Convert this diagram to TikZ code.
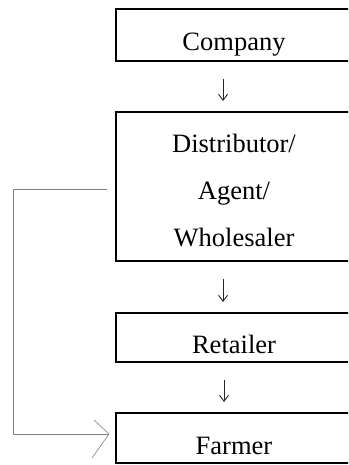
\documentclass[tikz,border=0pt]{standalone}
\usepackage{fontspec}
\setmainfont{Liberation Serif}
\usetikzlibrary{arrows.meta}
\begin{document}
\begin{tikzpicture}[x=1pt,y=-1pt,
  box/.style={draw=black, line width=2pt, minimum width=236pt, inner sep=0pt,
    text=black, font=\fontsize{26.5}{30}\selectfont},
  single/.style={box, text height=32pt, text depth=0pt},
  flow/.style={-{Straight Barb[length=6pt,width=9pt]}, line width=0.9pt, draw=black!85},
  loopline/.style={draw=gray, line width=0.8pt}]
\useasboundingbox (0,0) rectangle (348,465);
\clip (0,0) rectangle (348,465);
\node[single, minimum height=52pt] (comp) at (234,35) {Company};
\node[box, minimum height=149pt, align=center, font=\fontsize{26.5}{47}\selectfont] (dist) at (234,186.5)
  {\rule{0pt}{27pt}Distributor/\\Agent/\\Wholesaler};
\node[single, minimum height=49pt] (ret) at (234,337.5) {Retailer};
\node[single, minimum height=50pt] (farm) at (234,438) {Farmer};
\draw[flow, shorten <=17pt, shorten >=10pt] ([xshift=-11pt]comp.south) -- ([xshift=-11pt]dist.north);
\draw[flow, shorten <=17pt, shorten >=10pt] ([xshift=-11pt]dist.south) -- ([xshift=-11pt]ret.north);
\draw[flow, shorten <=17pt, shorten >=10pt] ([xshift=-10pt]ret.south) -- ([xshift=-10pt]farm.north);
\coordinate (tip) at ([xshift=-6pt,yshift=4pt]farm.west);
\draw[loopline] ([xshift=-8pt,yshift=-2.5pt]dist.west) -- ++(-94,0) |- (tip);
\draw[loopline, draw=gray!80] (tip) -- ++(-15,-14) (tip) -- ++(-17,24);
\end{tikzpicture}
\end{document}
